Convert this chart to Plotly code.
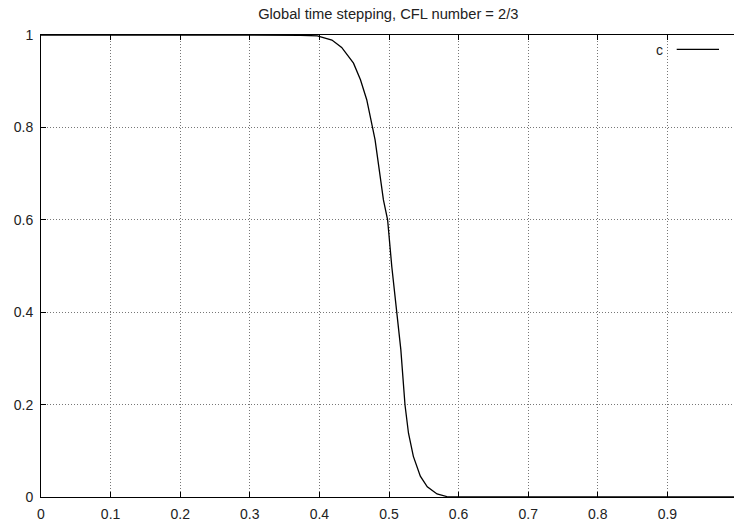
import plotly.graph_objects as go

# Data
x_vals = [0.0, 0.30, 0.35, 0.373, 0.397, 0.418, 0.432, 0.449, 0.459, 0.468, 0.476, 0.480,
          0.492, 0.498, 0.504, 0.511, 0.517, 0.523, 0.528, 0.535, 0.545, 0.555, 0.569,
          0.583, 0.60, 1.0]
c_vals = [1.0, 1.0, 1.0, 0.9995, 0.998, 0.989, 0.973, 0.939, 0.903, 0.860, 0.802, 0.773,
          0.643, 0.600, 0.499, 0.399, 0.319, 0.199, 0.138, 0.088, 0.045, 0.022, 0.0065,
          0.001, 0.0, 0.0]
x_ticks = [0, 0.1, 0.2, 0.3, 0.4, 0.5, 0.6, 0.7, 0.8, 0.9]
x_tick_labels = ["0", "0.1", "0.2", "0.3", "0.4", "0.5", "0.6", "0.7", "0.8", "0.9"]
y_ticks = [0, 0.2, 0.4, 0.6, 0.8, 1]
y_tick_labels = ["0", "0.2", "0.4", "0.6", "0.8", "1"]
series_name = "c"
title_text = "Global time stepping, CFL number = 2/3"

W, H = 734, 525
L, R, T, B = 41, 0, 35, 28
FONT = "Liberation Sans, Arial, Helvetica, sans-serif"


def px_to_paper_x(px):
    return (px - L) / (W - L - R)


def px_to_paper_y(py):
    return (H - B - py) / (H - T - B)


fig = go.Figure()
fig.add_trace(go.Scatter(x=x_vals, y=c_vals, mode="lines", name=series_name,
                         line=dict(color="black", width=1.3), showlegend=False))

axis_common = dict(
    showline=True, linecolor="black", linewidth=1,
    ticks="inside", ticklen=5, tickcolor="black", tickwidth=1,
    showgrid=True, gridcolor="#777777", griddash="1px,2px", gridwidth=1,
    zeroline=False, automargin=False,
    tickfont=dict(family=FONT, size=14, color="#222222"),
)

fig.update_xaxes(range=[0, (W - L) / 696.0], tickvals=x_ticks, ticktext=x_tick_labels,
                 mirror="ticks", ticklabelstandoff=4, **axis_common)
fig.update_yaxes(range=[0, 1], tickvals=y_ticks, ticktext=y_tick_labels,
                 mirror=False, ticklabelstandoff=4, **axis_common)

# key in the gnuplot style: label then line sample
fig.add_annotation(xref="paper", yref="paper", x=px_to_paper_x(665), y=px_to_paper_y(49.5),
                   text=series_name, showarrow=False, xanchor="right", yanchor="middle",
                   font=dict(family=FONT, size=14, color="#222222"))
fig.add_shape(type="line", xref="paper", yref="paper",
              x0=px_to_paper_x(676.7), x1=px_to_paper_x(719),
              y0=px_to_paper_y(49.3), y1=px_to_paper_y(49.3),
              line=dict(color="black", width=1.3))

fig.update_layout(
    width=W, height=H,
    margin=dict(l=L, r=R, t=T, b=B, pad=0, autoexpand=False),
    paper_bgcolor="white", plot_bgcolor="white",
    title=dict(text=title_text, x=388.3 / W, xref="container", xanchor="center",
               y=1 - 13.5 / H, yref="container", yanchor="middle",
               font=dict(family=FONT, size=14.7, color="#222222")),
    showlegend=False,
)

fig.write_html("out.html", config={"displayModeBar": False},
               post_script="document.body.style.margin='0';document.body.style.overflow='hidden';")
